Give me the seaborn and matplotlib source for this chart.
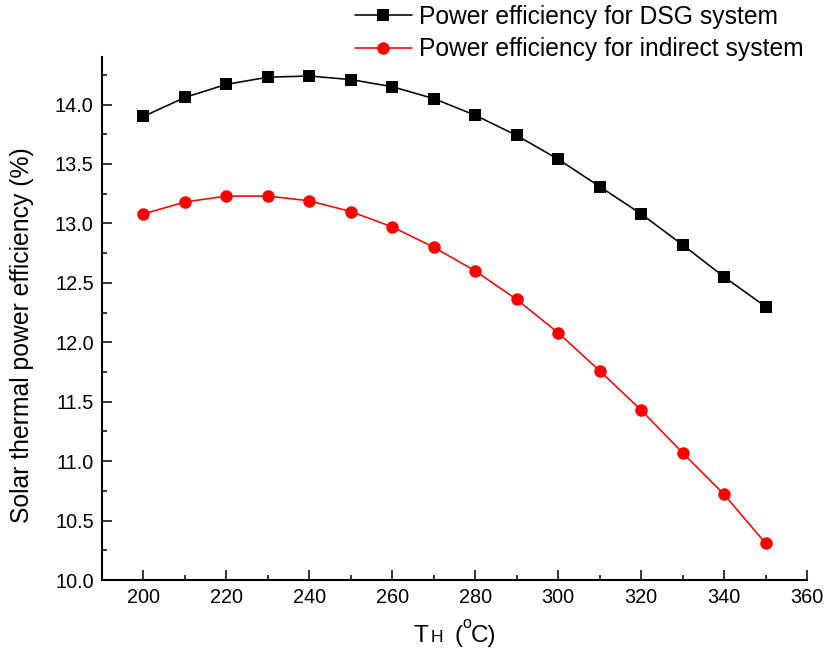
import matplotlib
matplotlib.use("Agg")
import matplotlib.pyplot as plt
import seaborn as sns
import pandas as pd
from matplotlib.ticker import MultipleLocator

temps = [200, 210, 220, 230, 240, 250, 260, 270, 280, 290, 300, 310, 320, 330, 340, 350]
dsg = [13.90, 14.06, 14.17, 14.23, 14.24, 14.21, 14.15, 14.05, 13.91, 13.74, 13.54,
       13.31, 13.08, 12.82, 12.55, 12.30]
indirect = [13.08, 13.18, 13.23, 13.23, 13.19, 13.10, 12.97, 12.80, 12.60, 12.36, 12.08,
            11.76, 11.43, 11.07, 10.72, 10.31]
labels = ["Power efficiency for DSG system", "Power efficiency for indirect system"]

sns.set_style("ticks")
plt.rcParams["font.family"] = ["Liberation Sans", "DejaVu Sans"]
plt.rcParams["text.color"] = "black"
plt.rcParams["axes.labelcolor"] = "black"
plt.rcParams["xtick.color"] = "black"
plt.rcParams["ytick.color"] = "black"
plt.rcParams["axes.edgecolor"] = "black"

fig = plt.figure(figsize=(8.24, 6.54), dpi=100)
ax = fig.add_axes([102/824, 1 - 580/654, (807 - 102)/824, (580 - 57)/654])

df1 = pd.DataFrame({"T": temps, "eff": dsg})
df2 = pd.DataFrame({"T": temps, "eff": indirect})
sns.lineplot(data=df1, x="T", y="eff", ax=ax, color="black", marker="s", markersize=8,
             markeredgewidth=0, linewidth=1.15, label=labels[0])
sns.lineplot(data=df2, x="T", y="eff", ax=ax, color="red", marker="o", markersize=9,
             markeredgewidth=0, linewidth=1.15, label=labels[1])

ax.set_xlim(190, 360)
ax.set_ylim(10.0, 14.4)
ax.xaxis.set_major_locator(MultipleLocator(20))
ax.xaxis.set_minor_locator(MultipleLocator(10))
ax.yaxis.set_major_locator(MultipleLocator(0.5))
ax.yaxis.set_minor_locator(MultipleLocator(0.25))
ax.yaxis.set_major_formatter(matplotlib.ticker.FormatStrFormatter("%.1f"))
ax.tick_params(which="major", direction="in", length=7, width=1.1, labelsize=14.3, pad=6,
               colors="black")
ax.tick_params(which="minor", direction="in", length=3.5, width=1.1, colors="black")
for s in ["top", "right"]:
    ax.spines[s].set_visible(False)
for s in ["left", "bottom"]:
    ax.spines[s].set_linewidth(1.5)
    ax.spines[s].set_color("black")

ax.set_ylabel("Solar thermal power efficiency (%)", fontsize=17.8, color="black")
ax.yaxis.set_label_coords(-0.097, 0.468)
ax.set_xlabel("")
# x label "T_H (°C)" built from pieces
yb = -0.119
ax.text(0.442, yb, "T", transform=ax.transAxes, fontsize=17.5, va="baseline", ha="left")
ax.text(0.4655, yb, "H", transform=ax.transAxes, fontsize=12.5, va="baseline", ha="left")
ax.text(0.500, yb, "(", transform=ax.transAxes, fontsize=17.5, va="baseline", ha="left")
ax.text(0.511, yb + 0.028, "o", transform=ax.transAxes, fontsize=11.5, va="baseline", ha="left")
ax.text(0.523, yb, "C)", transform=ax.transAxes, fontsize=17.5, va="baseline", ha="left")

leg = ax.legend(loc="upper left", bbox_to_anchor=(355/824, 1 - 5/654),
                bbox_transform=fig.transFigure, frameon=False, fontsize=17.7,
                handlelength=2.3, handletextpad=0.3, labelspacing=0.33,
                borderpad=0, borderaxespad=0)
for t in leg.get_texts():
    t.set_color("black")

fig.savefig("out.png", dpi=100)
